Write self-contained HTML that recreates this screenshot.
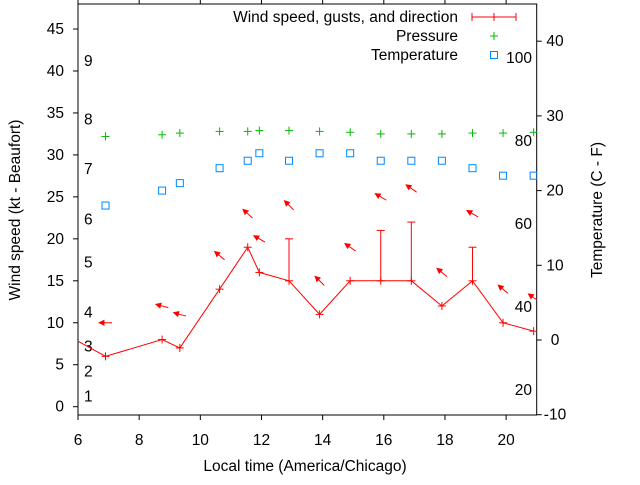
<!DOCTYPE html>
<html><head><meta charset="utf-8"><style>
body{margin:0;background:#fff}
svg text{font-family:"Liberation Sans",sans-serif;font-size:15.5px;fill:#000}
</style></head><body>
<svg id="c" width="640" height="480" xmlns="http://www.w3.org/2000/svg">
<defs><clipPath id="pc"><rect x="78" y="4" width="459" height="411"/></clipPath></defs>
<g id="axes"></g>
<g id="marks" clip-path="url(#pc)"></g>
<g id="legend"></g>
</svg>
<script>
const times=[5.9,6.9,8.75,9.33,10.63,11.55,11.93,12.9,13.9,14.9,15.9,16.9,17.9,18.9,19.9,20.9];
const speeds=[8,6,8,7,14,19,16,15,11,15,15,15,12,15,10,9];
const gusts=[null,null,null,null,null,null,null,20,null,null,21,22,null,19,null,null];
const dirs=[null,180,165,165,140,138,150,135,135,145,150,145,140,150,140,145];
const pressure=[null,32.2,32.4,32.6,32.8,32.8,32.9,32.9,32.8,32.7,32.5,32.5,32.5,32.6,32.6,32.7];
const tempC=[null,18,20,21,23,24,25,24,25,25,24,24,24,23,22,22];
const xTicks=[6,8,10,12,14,16,18,20];
const yTicks=[0,5,10,15,20,25,30,35,40,45];
const y2Ticks=[-10,0,10,20,30,40];
const beaufort=[1,2,3,4,5,6,7,8,9];
const beaufortKt=[1.2,4.2,7.2,11.2,17.2,22.3,28.3,34.2,41.2];
const fahr=[20,40,60,80,100];

const NS="http://www.w3.org/2000/svg";
const L=78,R=536.7,T=4,B=415;
const X=t=>L+(t-6)*(R-L)/15;
const Y=v=>406.7-v*8.393;
const Y2=c=>340-c*7.47;
const YF=f=>Y2((f-32)*5/9);
function el(p,tag,a){const e=document.createElementNS(NS,tag);for(const k in a)e.setAttribute(k,a[k]);p.appendChild(e);return e;}
function txt(p,x,y,s,anchor,extra){const e=el(p,'text',Object.assign({x:x,y:y,'text-anchor':anchor||'start'},extra||{}));e.textContent=s;return e;}
const ax=document.getElementById('axes'),mk=document.getElementById('marks'),lg=document.getElementById('legend');
const frame=el(ax,'rect',{x:L,y:T,width:R-L,height:B-T,fill:'none',stroke:'#000','stroke-width':1});


xTicks.forEach(t=>{
  el(ax,'line',{x1:X(t),x2:X(t),y1:B,y2:B+5,stroke:'#000'});
  el(ax,'line',{x1:X(t),x2:X(t),y1:T,y2:T-5,stroke:'#000'});
  const e=txt(ax,X(t),445,String(t),'middle');
  
  
});
yTicks.forEach(v=>{
  el(ax,'line',{x1:L-5,x2:L,y1:Y(v),y2:Y(v),stroke:'#000'});
  const e=txt(ax,64,Y(v)+5,String(v),'end');
  
  
});
y2Ticks.forEach(v=>{
  el(ax,'line',{x1:R,x2:R+5,y1:Y2(v),y2:Y2(v),stroke:'#000'});
  const e=txt(ax,555,Y2(v)+5,String(v),'middle');
  
  
});
beaufort.forEach((b,i)=>{
  const e=txt(ax,84,Y(beaufortKt[i])+5,String(b),'start');
  
  
});
fahr.forEach(f=>{
  const e=txt(ax,532,YF(f)+5,String(f),'end');
  
  
});
let e=txt(ax,305,471,'Local time (America/Chicago)','middle');

e=txt(ax,0,0,'Wind speed (kt - Beaufort)','middle',{transform:'translate(20,210) rotate(-90)'});

e=txt(ax,0,0,'Temperature (C - F)','middle',{transform:'translate(602,210) rotate(-90)'});


const red='#f00',green='#0b0',blue='#08f';
function plus(p,x,y,c,n){const g=el(p,'g',{stroke:c,'stroke-width':1});
 
 el(g,'line',{x1:x-4,x2:x+4,y1:y,y2:y});el(g,'line',{x1:x,x2:x,y1:y-4,y2:y+4});}
const pl=el(mk,'polyline',{points:times.map((t,i)=>X(t)+','+Y(speeds[i])).join(' '),fill:'none',stroke:red,'stroke-width':1});

times.forEach((t,i)=>{
  plus(mk,X(t),Y(speeds[i]),red,'wind-speed-point');
  if(gusts[i]!=null){const g=el(mk,'g',{stroke:red});
    
    el(g,'line',{x1:X(t),x2:X(t),y1:Y(speeds[i]),y2:Y(gusts[i])});
    el(g,'line',{x1:X(t)-4,x2:X(t)+4,y1:Y(gusts[i]),y2:Y(gusts[i])});}
  if(dirs[i]!=null){const top=Math.max(speeds[i],gusts[i]||0);
    const a=dirs[i]*Math.PI/180,cx=X(t),cy=Y(top+4),h=6.5;
    const dx=Math.cos(a),dy=-Math.sin(a);
    const hx=cx+dx*h,hy=cy+dy*h,tx=cx-dx*h,ty=cy-dy*h;
    const g=el(mk,'g',{});
    
    el(g,'line',{x1:tx,y1:ty,x2:hx,y2:hy,stroke:red});
    const px=-dy,py=dx,bx=hx-dx*5,by=hy-dy*5;
    el(g,'polygon',{points:`${hx},${hy} ${bx+px*2.5},${by+py*2.5} ${bx-px*2.5},${by-py*2.5}`,fill:red,stroke:red,'stroke-width':0.8});}
  if(pressure[i]!=null)plus(mk,X(t),Y(pressure[i]),green,'pressure-point');
  if(tempC[i]!=null){const r=el(mk,'rect',{x:X(t)-3.5,y:Y2(tempC[i])-3.5,width:7,height:7,fill:'none',stroke:blue});
    }
});
e=txt(lg,458,22,'Wind speed, gusts, and direction','end');
e=txt(lg,458,41,'Pressure','end');
e=txt(lg,458,60,'Temperature','end');
el(lg,'line',{x1:472,x2:516,y1:17,y2:17,stroke:red});
el(lg,'line',{x1:472,x2:472,y1:13,y2:21,stroke:red});
el(lg,'line',{x1:516,x2:516,y1:13,y2:21,stroke:red});
plus(lg,494,17,red,'legend-wind-sample');
plus(lg,494,36,green,'legend-pressure-sample');
const lr=el(lg,'rect',{x:490.5,y:51.5,width:7,height:7,fill:'none',stroke:blue});

</script>
</body></html>
